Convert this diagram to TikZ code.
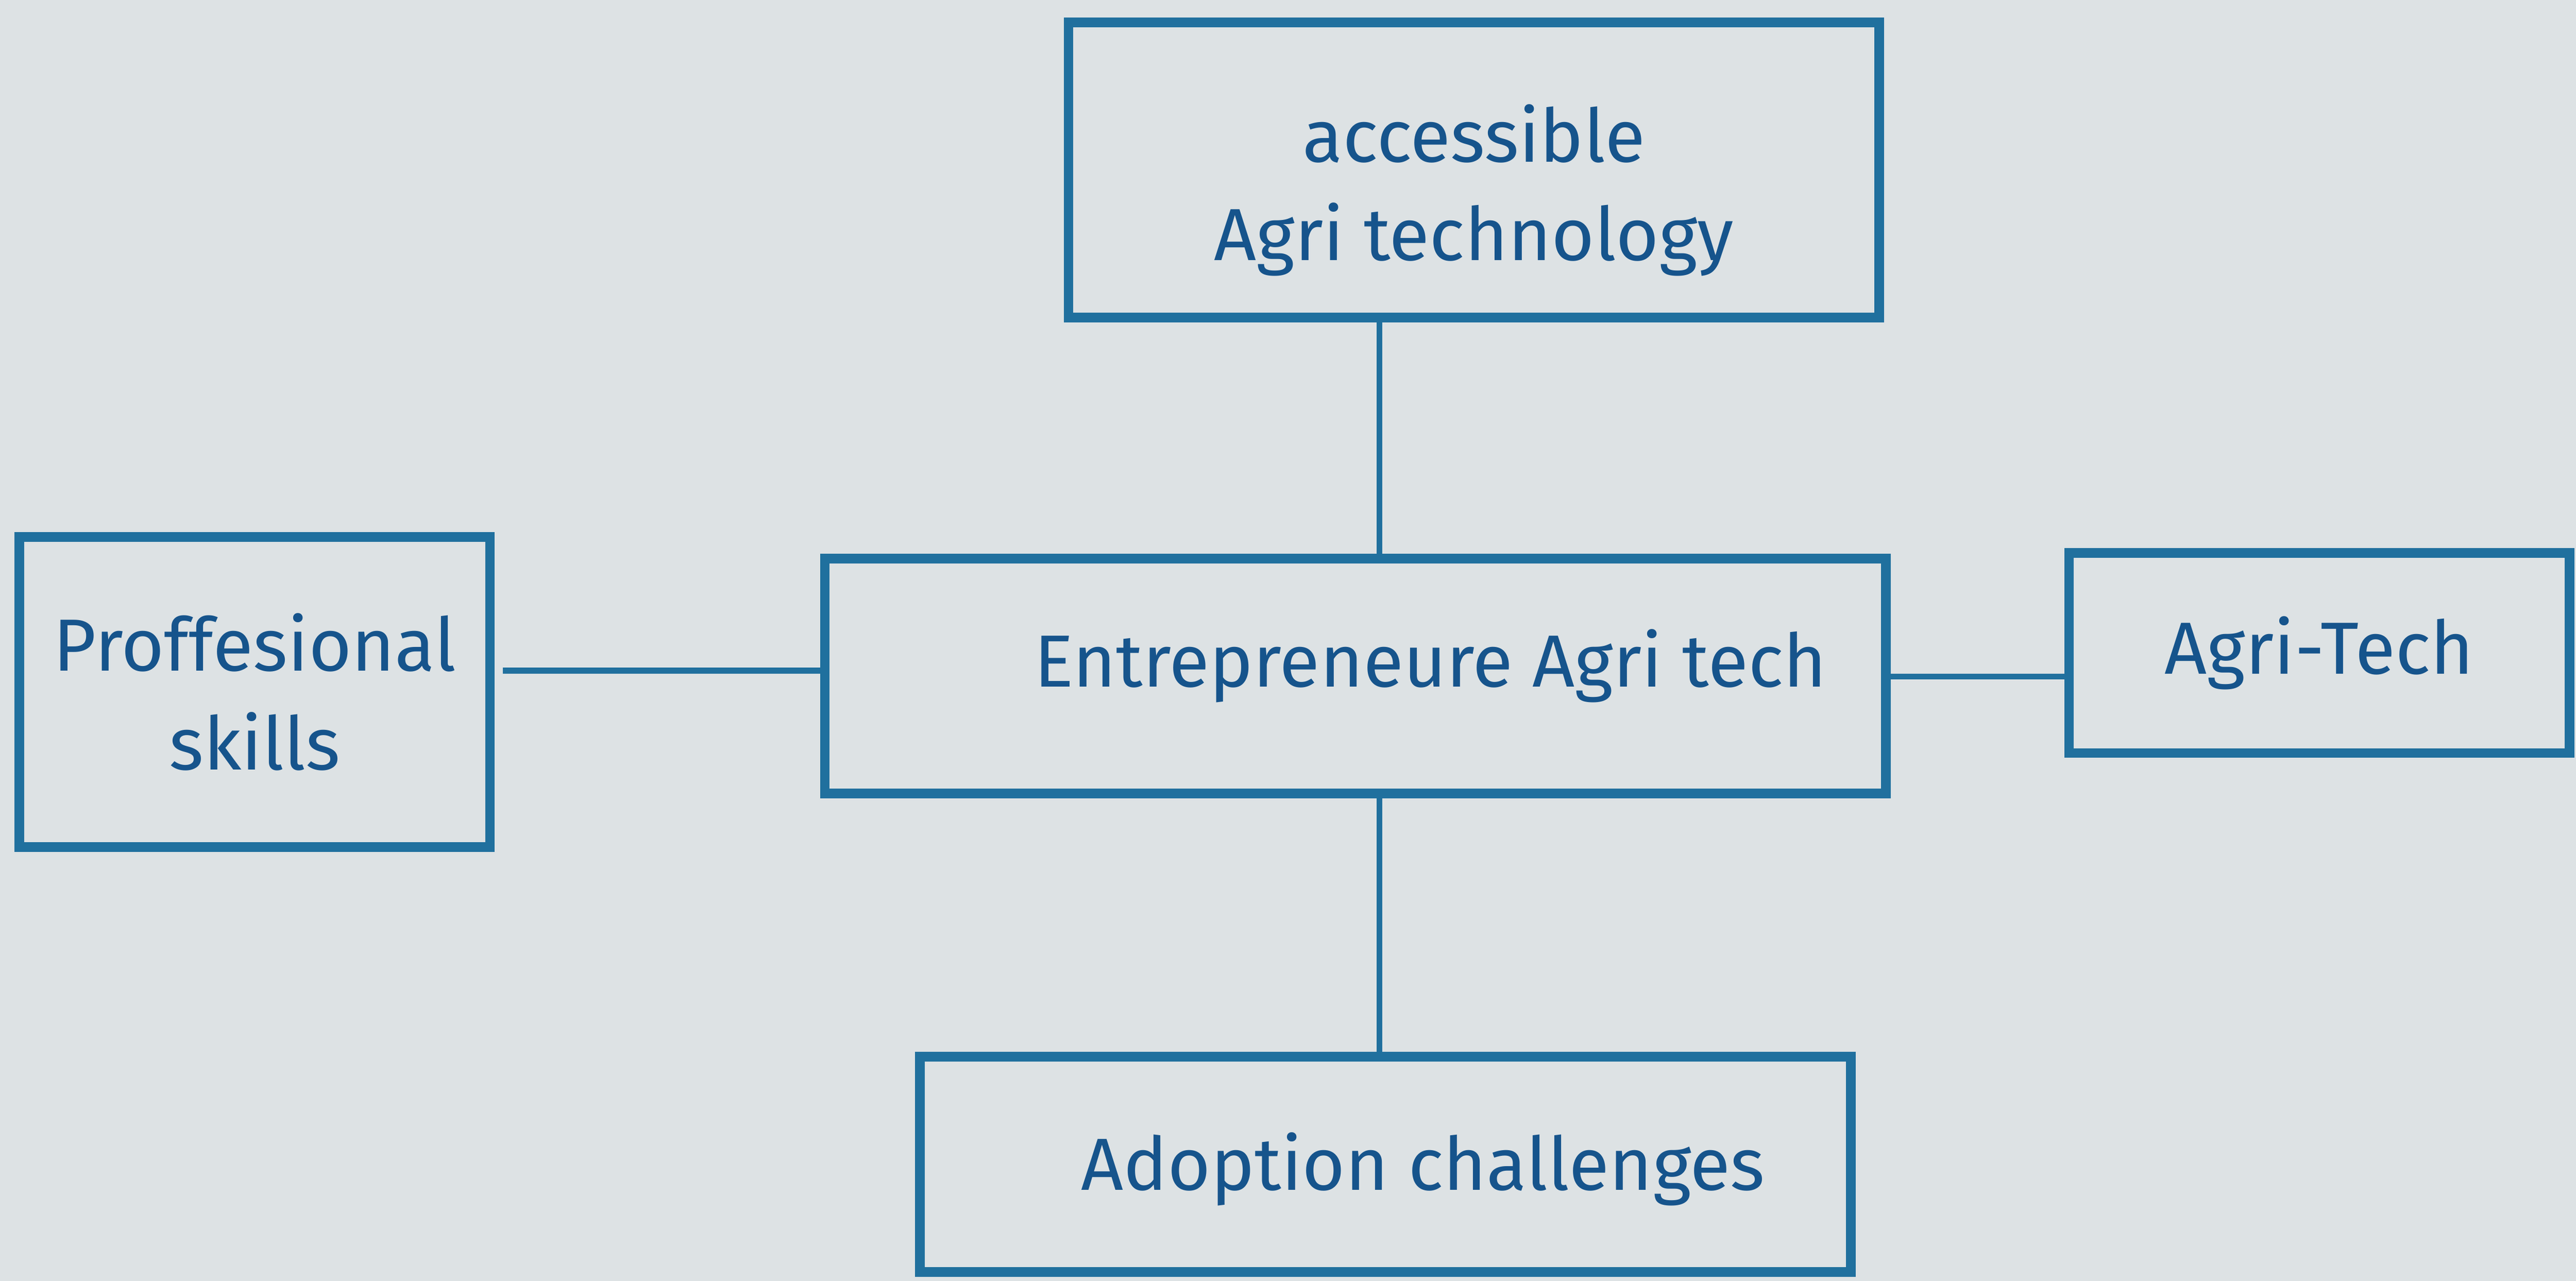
\documentclass[tikz,border=0pt]{standalone}
\usepackage{fontspec}
\setmainfont{Fira Sans}

\definecolor{ink}{RGB}{32,112,158}
\definecolor{inktext}{RGB}{22,84,140}
\definecolor{paper}{RGB}{221,226,228}

\tikzset{
    concept/.style = {draw = ink, line width = 5.5pt, inner sep = 0pt},
    tag/.style = {text = inktext, align = center, font = \fontsize{42}{56}\selectfont},
    link/.style = {draw = ink, line width = 3.4pt}
}

\begin{document}
\begin{tikzpicture}
        \fill [paper] (0, 0) rectangle (51.47, 25.6);

        \node [concept, minimum width = 16.2cm, minimum height = 5.9cm,
            label = {[tag, yshift = -0.4cm]center:accessible\\Agri technology}] (tech) at (29.45, 22.2) {};
        \node [concept, minimum width = 21.2cm, minimum height = 4.7cm,
            label = {[tag, xshift = 1.5cm, yshift = 0.2cm]center:Entrepreneure Agri tech}] (ent) at (27.08, 12.09) {};
        \node [concept, minimum width = 9.4cm, minimum height = 6.2cm,
            label = {[tag]center:Proffesional\\skills}] (skills) at (5.09, 11.77) {};
        \node [concept, minimum width = 10cm, minimum height = 4cm,
            label = {[tag]center:Agri-Tech}] (agritech) at (46.34, 12.55) {};
        \node [concept, minimum width = 18.6cm, minimum height = 4.3cm,
            label = {[tag, xshift = 0.75cm, yshift = -0.1cm]center:Adoption challenges}] (adopt) at (27.68, 2.33) {};

        \coordinate (spine) at (27.56, 0);
        \coordinate (lrow) at (0, 12.2);
        \coordinate (rrow) at (0, 12.08);

        \draw [link]
            (tech.south -| spine) -- (ent.north -| spine)
            (ent.south -| spine) -- (adopt.north -| spine)
            ([xshift = 1.6mm]skills.east |- lrow) -- (ent.west |- lrow)
            (ent.east |- rrow) -- (agritech.west |- rrow)
        ;
    \end{tikzpicture}
\end{document}
